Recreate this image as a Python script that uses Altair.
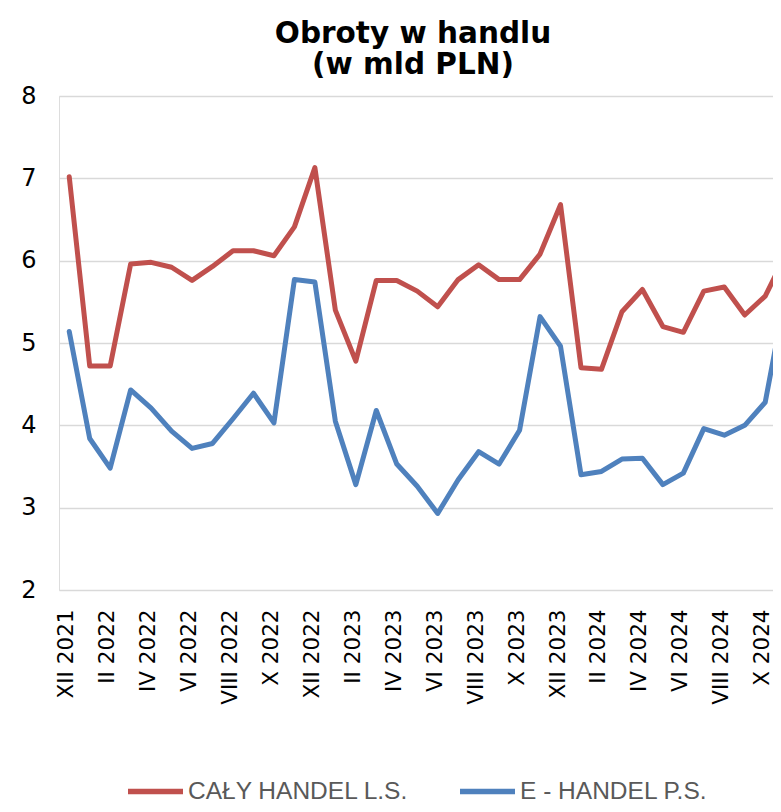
import altair as alt
import pandas as pd

months = [
    "XII 2021", "I 2022", "II 2022", "III 2022", "IV 2022", "V 2022", "VI 2022",
    "VII 2022", "VIII 2022", "IX 2022", "X 2022", "XI 2022", "XII 2022",
    "I 2023", "II 2023", "III 2023", "IV 2023", "V 2023", "VI 2023",
    "VII 2023", "VIII 2023", "IX 2023", "X 2023", "XI 2023", "XII 2023",
    "I 2024", "II 2024", "III 2024", "IV 2024", "V 2024", "VI 2024",
    "VII 2024", "VIII 2024", "IX 2024", "X 2024", "XI 2024",
]

caly_handel = [
    7.02, 4.72, 4.72, 5.96, 5.98, 5.92, 5.76, 5.93, 6.12, 6.12, 6.06, 6.41,
    7.13, 5.40, 4.78, 5.76, 5.76, 5.63, 5.44, 5.77, 5.95, 5.77, 5.77, 6.08,
    6.68, 4.70, 4.68, 5.38, 5.65, 5.20, 5.13, 5.63, 5.68, 5.34, 5.57, 6.07,
]

e_handel = [
    5.14, 3.84, 3.48, 4.43, 4.21, 3.93, 3.72, 3.78, 4.08, 4.39, 4.03, 5.77,
    5.74, 4.05, 3.28, 4.18, 3.53, 3.26, 2.93, 3.34, 3.68, 3.53, 3.94, 5.32,
    4.96, 3.40, 3.44, 3.59, 3.60, 3.28, 3.42, 3.96, 3.88, 4.00, 4.28, 5.60,
]

series_names = ["CAŁY HANDEL L.S.", "E - HANDEL P.S."]
series_colors = ["#C0504D", "#4F81BD"]
tick_labels = months[::2][:18]
y_ticks = [2, 3, 4, 5, 6, 7, 8]

rows = []
for i, m in enumerate(months):
    rows.append({"idx": i, "month": m, "value": caly_handel[i], "series": series_names[0]})
    rows.append({"idx": i, "month": m, "value": e_handel[i], "series": series_names[1]})
df = pd.DataFrame(rows)

tick_idx = [months.index(t) for t in tick_labels]
label_expr = "{" + ",".join(f"'{i}':'{months[i]}'" for i in tick_idx) + "}[datum.value]"

chart = (
    alt.Chart(df)
    .mark_line(clip=True, strokeWidth=5, strokeJoin="round", strokeCap="round")
    .encode(
        x=alt.X(
            "idx:Q",
            scale=alt.Scale(domain=[-0.5, 34.38], nice=False, zero=False),
            axis=alt.Axis(
                values=tick_idx,
                labelExpr=label_expr,
                labelAngle=-90,
                labelFont="DejaVu Sans",
                labelFontSize=21.5,
                labelColor="#000000",
                labelPadding=19,
                labelOffset=-2.5,
                labelOverlap=False,
                labelBound=False,
                labelFlush=False,
                grid=False,
                domain=False,
                ticks=False,
                title=None,
            ),
        ),
        y=alt.Y(
            "value:Q",
            scale=alt.Scale(domain=[2, 8], nice=False, zero=False),
            axis=alt.Axis(
                values=y_ticks,
                labelFont="DejaVu Sans",
                labelFontSize=24,
                labelColor="#000000",
                labelPadding=23,
                grid=True,
                gridColor="#D9D9D9",
                gridWidth=1.3,
                domain=False,
                ticks=False,
                title=None,
            ),
        ),
        color=alt.Color(
            "series:N",
            scale=alt.Scale(domain=series_names, range=series_colors),
            sort=series_names,
            legend=alt.Legend(
                title=None,
                orient="none",
                direction="horizontal",
                legendX=66,
                legendY=665,
                padding=0,
                symbolType="stroke",
                symbolSize=3025,
                symbolStrokeWidth=5.5,
                labelFont="Liberation Sans",
                labelFontSize=24.5,
                labelColor="#595959",
                labelOffset=2,
                labelLimit=400,
                columnPadding=40,
            ),
        ),
        detail="series:N",
    )
    .properties(
        width=714,
        height=494,
        padding={"left": 51, "top": 88, "right": 0, "bottom": 213},
        autosize=alt.AutoSizeParams(type="none"),
        title=alt.TitleParams(
            text=["Obroty w handlu", "(w mld PLN)"],
            font="DejaVu Sans",
            fontSize=29.5,
            fontWeight="bold",
            color="#000000",
            anchor="middle",
            dx=-3,
            lineHeight=31,
            offset=4,
        ),
    )
    .configure_view(stroke=None)
    .configure(background="white")
)

chart.save("out.html", embed_options={"renderer": "svg", "actions": False})
